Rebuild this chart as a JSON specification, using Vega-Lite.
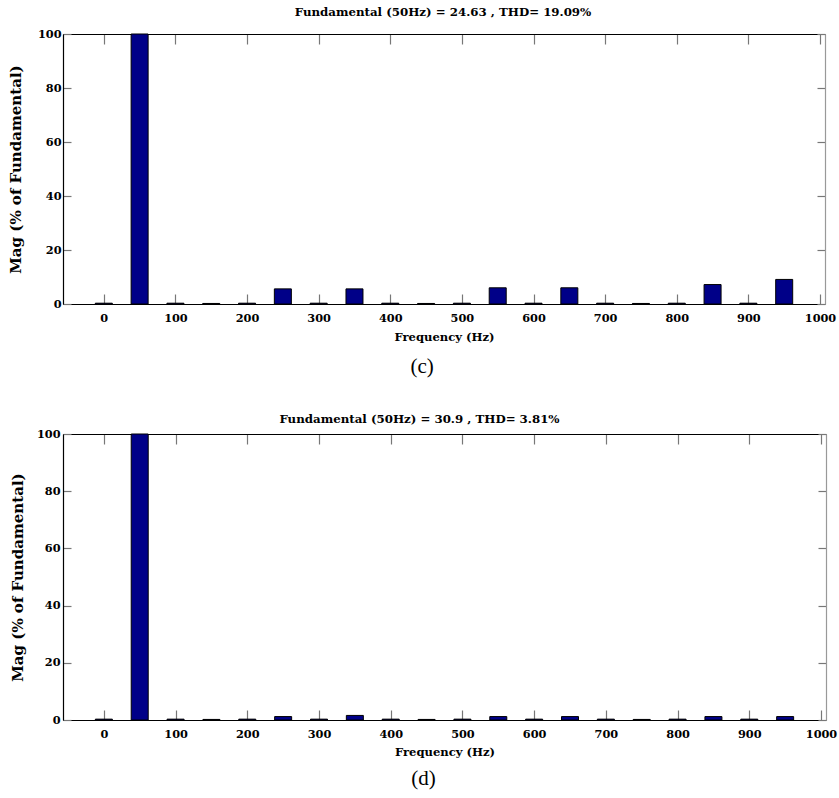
{
  "$schema": "https://vega.github.io/schema/vega-lite/v6.json",
  "background": "white",
  "padding": {"left": 8, "top": 7, "right": 2, "bottom": 2},
  "datasets": {
    "c": [
      {"freq": 0, "mag": 0.3}, {"freq": 50, "mag": 100}, {"freq": 100, "mag": 0.3}, {"freq": 150, "mag": 0.2},
      {"freq": 200, "mag": 0.3}, {"freq": 250, "mag": 5.6}, {"freq": 300, "mag": 0.3}, {"freq": 350, "mag": 5.6},
      {"freq": 400, "mag": 0.3}, {"freq": 450, "mag": 0.2}, {"freq": 500, "mag": 0.3}, {"freq": 550, "mag": 6.0},
      {"freq": 600, "mag": 0.3}, {"freq": 650, "mag": 6.0}, {"freq": 700, "mag": 0.3}, {"freq": 750, "mag": 0.2},
      {"freq": 800, "mag": 0.3}, {"freq": 850, "mag": 7.2}, {"freq": 900, "mag": 0.3}, {"freq": 950, "mag": 9.1}
    ],
    "d": [
      {"freq": 0, "mag": 0.3}, {"freq": 50, "mag": 100}, {"freq": 100, "mag": 0.3}, {"freq": 150, "mag": 0.2},
      {"freq": 200, "mag": 0.3}, {"freq": 250, "mag": 1.2}, {"freq": 300, "mag": 0.3}, {"freq": 350, "mag": 1.6},
      {"freq": 400, "mag": 0.3}, {"freq": 450, "mag": 0.2}, {"freq": 500, "mag": 0.3}, {"freq": 550, "mag": 1.2},
      {"freq": 600, "mag": 0.3}, {"freq": 650, "mag": 1.2}, {"freq": 700, "mag": 0.3}, {"freq": 750, "mag": 0.2},
      {"freq": 800, "mag": 0.3}, {"freq": 850, "mag": 1.2}, {"freq": 900, "mag": 0.3}, {"freq": 950, "mag": 1.2}
    ]
  },
  "config": {
    "view": {"stroke": null},
    "font": "DejaVu Serif",
    "title": {"font": "DejaVu Serif", "fontSize": 11.8, "fontWeight": "bold", "color": "black"},
    "axis": {
      "grid": false,
      "labelFont": "DejaVu Serif", "labelFontSize": 11.3, "labelFontWeight": "bold", "labelColor": "black",
      "titleFont": "DejaVu Serif", "titleFontSize": 11.6, "titleFontWeight": "bold", "titleColor": "black",
      "domainColor": "black", "domainWidth": 1.2, "tickColor": "#777", "tickWidth": 1.2
    }
  },
  "columns": 1,
  "align": "none",
  "spacing": 37,
  "concat": [
    {
      "title": {"text": "(c)", "orient": "bottom", "anchor": "middle", "font": "Liberation Serif", "fontSize": 21, "fontWeight": "normal", "offset": 13},
      "vconcat": [
        {
          "width": 762,
          "height": 270,
          "title": {"text": "Fundamental (50Hz) = 24.63 , THD= 19.09%", "dx": -1, "offset": 9},
          "data": {"name": "c"},
          "layer": [
            {
              "mark": {"type": "bar", "size": 17, "fill": "#000088", "stroke": "black", "strokeWidth": 1},
              "encoding": {
                "x": {"field": "freq", "type": "quantitative", "scale": {"domain": [-50, 1000], "nice": false, "zero": false},
                  "axis": {"orient": "bottom", "values": [0, 100, 200, 300, 400, 500, 600, 700, 800, 900, 1000], "format": "d", "tickSize": -10, "labelPadding": 18, "title": "Frequency (Hz)", "titlePadding": 8}},
                "y": {"field": "mag", "type": "quantitative", "stack": null, "scale": {"domain": [0, 100], "nice": false},
                  "axis": {"orient": "left", "values": [0, 20, 40, 60, 80, 100], "tickSize": -8, "labelPadding": 10, "title": "Mag (% of Fundamental)", "titleFontSize": 15, "titlePadding": 14}}
              }
            },
            {
              "mark": {"type": "point", "opacity": 0},
              "encoding": {
                "x": {"field": "freq", "type": "quantitative",
                  "axis": {"orient": "top", "values": [0, 100, 200, 300, 400, 500, 600, 700, 800, 900, 1000], "tickSize": -10, "labels": false, "title": null}},
                "y": {"field": "mag", "type": "quantitative",
                  "axis": {"orient": "right", "values": [0, 20, 40, 60, 80, 100], "tickSize": -8, "labels": false, "title": null, "domainColor": "#999"}}
              }
            }
          ],
          "resolve": {"axis": {"x": "independent", "y": "independent"}}
        }
      ]
    },
    {
      "title": {"text": "(d)", "orient": "bottom", "anchor": "middle", "font": "Liberation Serif", "fontSize": 21, "fontWeight": "normal", "offset": 10},
      "vconcat": [
        {
          "width": 763,
          "height": 286,
          "title": {"text": "Fundamental (50Hz) = 30.9 , THD= 3.81%", "dx": -25, "offset": 2},
          "data": {"name": "d"},
          "layer": [
            {
              "mark": {"type": "bar", "size": 17, "fill": "#000088", "stroke": "black", "strokeWidth": 1},
              "encoding": {
                "x": {"field": "freq", "type": "quantitative", "scale": {"domain": [-50, 1000], "nice": false, "zero": false},
                  "axis": {"orient": "bottom", "values": [0, 100, 200, 300, 400, 500, 600, 700, 800, 900, 1000], "format": "d", "tickSize": -10, "labelPadding": 18, "title": "Frequency (Hz)", "titlePadding": 7}},
                "y": {"field": "mag", "type": "quantitative", "stack": null, "scale": {"domain": [0, 100], "nice": false},
                  "axis": {"orient": "left", "values": [0, 20, 40, 60, 80, 100], "tickSize": -8, "labelPadding": 11, "title": "Mag (% of Fundamental)", "titleFontSize": 15, "titlePadding": 11}}
              }
            },
            {
              "mark": {"type": "point", "opacity": 0},
              "encoding": {
                "x": {"field": "freq", "type": "quantitative",
                  "axis": {"orient": "top", "values": [0, 100, 200, 300, 400, 500, 600, 700, 800, 900, 1000], "tickSize": -10, "labels": false, "title": null}},
                "y": {"field": "mag", "type": "quantitative",
                  "axis": {"orient": "right", "values": [0, 20, 40, 60, 80, 100], "tickSize": -8, "labels": false, "title": null, "domainColor": "#999"}}
              }
            }
          ],
          "resolve": {"axis": {"x": "independent", "y": "independent"}}
        }
      ]
    }
  ]
}
